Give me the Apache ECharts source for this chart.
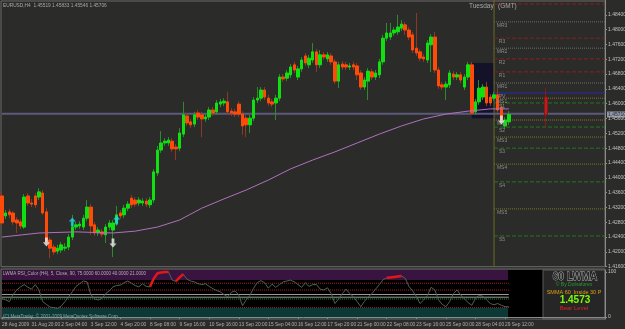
<!DOCTYPE html>
<html>
<head>
<meta charset="utf-8">
<script src="https://cdn.jsdelivr.net/npm/echarts@6/dist/echarts.min.js"></script>
<style>
html,body{margin:0;padding:0;background:#2b2b29;}
#chart{width:625px;height:329px;}
</style>
</head>
<body>
<div id="chart"></div>
<script>
// EURUSD H4 bars: [open, close, low, high]
var bars = [
[1.4351,1.4278,1.4270,1.4362],[1.4297,1.4305,1.4289,1.4313],[1.4308,1.4300,1.4291,1.4316],[1.4305,1.4281,1.4273,1.4310],
[1.4286,1.4278,1.4251,1.4294],[1.4281,1.4270,1.4262,1.4289],[1.4267,1.4348,1.4262,1.4356],[1.4351,1.4332,1.4324,1.4359],
[1.4332,1.4329,1.4321,1.4343],[1.4351,1.4327,1.4318,1.4359],[1.4348,1.4362,1.4340,1.4372],[1.4359,1.4305,1.4300,1.4367],
[1.4308,1.4227,1.4221,1.4318],[1.4232,1.4210,1.4183,1.4240],[1.4213,1.4200,1.4192,1.4221],[1.4202,1.4210,1.4194,1.4219],
[1.4205,1.4219,1.4197,1.4227],[1.4210,1.4213,1.4202,1.4224],[1.4213,1.4240,1.4205,1.4248],[1.4240,1.4267,1.4232,1.4300],
[1.4267,1.4273,1.4259,1.4281],[1.4270,1.4275,1.4262,1.4283],[1.4267,1.4291,1.4259,1.4300],[1.4291,1.4321,1.4283,1.4340],
[1.4321,1.4270,1.4246,1.4329],[1.4273,1.4251,1.4243,1.4281],[1.4251,1.4259,1.4243,1.4267],[1.4254,1.4248,1.4240,1.4262],
[1.4246,1.4267,1.4224,1.4275],[1.4267,1.4278,1.4259,1.4286],[1.4259,1.4278,1.4186,1.4286],[1.4278,1.4300,1.4270,1.4324],
[1.4305,1.4297,1.4289,1.4313],[1.4300,1.4318,1.4291,1.4327],[1.4318,1.4329,1.4310,1.4337],[1.4345,1.4327,1.4318,1.4354],
[1.4340,1.4329,1.4321,1.4348],[1.4332,1.4340,1.4324,1.4348],[1.4332,1.4337,1.4324,1.4345],[1.4337,1.4329,1.4321,1.4345],
[1.4327,1.4340,1.4318,1.4348],[1.4340,1.4416,1.4332,1.4424],[1.4413,1.4475,1.4405,1.4486],[1.4475,1.4494,1.4467,1.4526],
[1.4494,1.4499,1.4486,1.4507],[1.4494,1.4502,1.4486,1.4510],[1.4499,1.4478,1.4470,1.4507],[1.4483,1.4478,1.4448,1.4491],
[1.4480,1.4521,1.4472,1.4534],[1.4518,1.4570,1.4510,1.4605],[1.4567,1.4548,1.4540,1.4575],[1.4551,1.4543,1.4534,1.4559],
[1.4545,1.4570,1.4537,1.4578],[1.4575,1.4564,1.4556,1.4583],[1.4570,1.4559,1.4510,1.4578],[1.4559,1.4564,1.4551,1.4572],
[1.4564,1.4583,1.4556,1.4591],[1.4583,1.4575,1.4567,1.4591],[1.4578,1.4602,1.4570,1.4610],[1.4599,1.4605,1.4591,1.4613],
[1.4602,1.4607,1.4594,1.4615],[1.4605,1.4578,1.4570,1.4632],[1.4580,1.4575,1.4567,1.4588],[1.4578,1.4572,1.4564,1.4586],
[1.4599,1.4572,1.4564,1.4607],[1.4572,1.4540,1.4516,1.4580],[1.4561,1.4543,1.4510,1.4570],[1.4543,1.4561,1.4521,1.4570],
[1.4561,1.4610,1.4553,1.4618],[1.4610,1.4615,1.4602,1.4645],[1.4615,1.4637,1.4607,1.4645],[1.4637,1.4618,1.4610,1.4645],
[1.4615,1.4602,1.4594,1.4624],[1.4605,1.4599,1.4591,1.4613],[1.4602,1.4615,1.4556,1.4624],[1.4615,1.4672,1.4607,1.4680],
[1.4672,1.4667,1.4659,1.4680],[1.4669,1.4683,1.4661,1.4691],[1.4678,1.4699,1.4669,1.4707],[1.4705,1.4691,1.4683,1.4713],
[1.4672,1.4694,1.4664,1.4702],[1.4694,1.4718,1.4686,1.4726],[1.4729,1.4710,1.4702,1.4737],[1.4705,1.4723,1.4696,1.4732],
[1.4718,1.4740,1.4710,1.4764],[1.4740,1.4705,1.4686,1.4748],[1.4705,1.4732,1.4696,1.4745],[1.4732,1.4726,1.4718,1.4740],
[1.4721,1.4732,1.4713,1.4740],[1.4729,1.4713,1.4705,1.4737],[1.4713,1.4661,1.4653,1.4721],[1.4661,1.4705,1.4642,1.4713],
[1.4707,1.4699,1.4691,1.4715],[1.4705,1.4699,1.4691,1.4713],[1.4699,1.4702,1.4691,1.4710],[1.4705,1.4699,1.4691,1.4713],
[1.4702,1.4678,1.4664,1.4710],[1.4683,1.4645,1.4637,1.4691],[1.4645,1.4664,1.4637,1.4672],[1.4661,1.4688,1.4610,1.4696],
[1.4686,1.4672,1.4664,1.4694],[1.4672,1.4683,1.4664,1.4691],[1.4678,1.4713,1.4669,1.4721],[1.4713,1.4777,1.4705,1.4786],
[1.4777,1.4791,1.4769,1.4818],[1.4780,1.4791,1.4772,1.4818],[1.4791,1.4799,1.4783,1.4807],[1.4794,1.4807,1.4786,1.4840],
[1.4804,1.4815,1.4796,1.4826],[1.4813,1.4799,1.4786,1.4821],[1.4799,1.4780,1.4772,1.4807],[1.4786,1.4745,1.4737,1.4794],
[1.4750,1.4737,1.4729,1.4845],[1.4740,1.4723,1.4715,1.4748],[1.4726,1.4721,1.4713,1.4734],[1.4718,1.4764,1.4710,1.4772],
[1.4759,1.4780,1.4686,1.4788],[1.4780,1.4691,1.4683,1.4794],[1.4691,1.4648,1.4640,1.4699],[1.4651,1.4645,1.4637,1.4659],
[1.4645,1.4653,1.4610,1.4661],[1.4651,1.4683,1.4642,1.4691],[1.4680,1.4672,1.4664,1.4688],[1.4672,1.4678,1.4664,1.4686],
[1.4678,1.4664,1.4656,1.4686],[1.4645,1.4672,1.4637,1.4680],[1.4672,1.4705,1.4664,1.4713],[1.4705,1.4575,1.4570,1.4713],
[1.4578,1.4605,1.4570,1.4613],[1.4605,1.4642,1.4597,1.4664],[1.4618,1.4645,1.4610,1.4653],[1.4645,1.4602,1.4594,1.4659],
[1.4618,1.4602,1.4594,1.4626],[1.4615,1.4624,1.4607,1.4632],[1.4624,1.4583,1.4575,1.4642],[1.4591,1.4556,1.4548,1.4599],
[1.4540,1.4556,1.4532,1.4564],[1.4551,1.4571,1.4543,1.4580]
];

// 60 LWMA (pink line), sampled [bar, value]
var lwma = [[0,1.4240],[10,1.4251],[20,1.4254],[30,1.4251],[36,1.4256],[42,1.4267],[48,1.4286],[54,1.4318],
[60,1.4343],[66,1.4367],[72,1.4394],[78,1.4424],[84,1.4448],[90,1.4470],[96,1.4494],[102,1.4518],
[108,1.4540],[114,1.4559],[120,1.4572],[126,1.4580],[132,1.4586],[137,1.4586]];

var lwmaLevel = 1.4573;
var lastPrice = 1.45710;

// projected daily bar on the right
var dayBarIndex = 147;
var dayBar = [1.4618, 1.4570, 1.4537, 1.4642];

// signal arrows [bar, price]
var arrowsDown = [[12,1.4227],[30,1.4224],[135,1.4556]];
var arrowsUp = [[19,1.4281],[31,1.4286]];

// pivot levels
var pivotNames = ['','MR3','R3','MR2','R2','R1','MR1','PV','MS1','S1','MS2','S2','MS3','S3','MS4','S4','MS5','S5'];
var pivotPrices = [1.4869,1.4821,1.4777,1.4750,1.4721,1.4686,1.4656,1.4629,1.4615,1.4602,1.4556,1.4537,1.4510,1.4480,1.4437,1.4389,1.4316,1.4243];
var pivotStart = 133;

// session box
var boxBars = [127, 133];
var boxPrices = [1.4710, 1.4561];

// LWMA RSI indicator
var rsi = [41,38,34,50,60,67,72,66,62,72,60,34,28,22,21,19,24,34,45,56,
68,74,80,78,50,40,38,41,52,58,67,70,71,76,80,75,70,67,74,68,
67,85,97,99,100,100,82,79,88,95,84,80,78,74,72,74,68,63,59,56,
50,45,55,58,49,25,38,48,64,76,81,76,64,73,66,72,78,80,82,78,
72,66,76,68,72,72,62,60,65,52,30,40,52,62,52,45,34,23,35,45,
52,62,72,83,87,88,89,90,91,86,68,58,46,30,38,48,66,60,38,28,
23,34,52,60,49,40,32,26,42,48,46,38,30,27,30,26,23,23];
var rsiHot1 = [[40,67],[41,85],[42,97],[43,99],[44,100],[45,100]];
var rsiHot2 = [[47,79],[48,88],[49,95]];
var rsiHot3 = [[104,87],[105,88],[106,89],[107,90],[108,91]];
var rsiLevels = [75, 60, 50, 44, 40, 21];

var barCount = 164;
var timeLabels = ['28 Aug 2009','31 Aug 20:00','2 Sep 04:00','3 Sep 12:00','4 Sep 20:00','8 Sep 08:00',
'9 Sep 16:00','10 Sep 16:00','13 Sep 20:00','15 Sep 04:00','16 Sep 12:00','17 Sep 20:00','21 Sep 00:00',
'22 Sep 08:00','23 Sep 16:00','25 Sep 00:00','28 Sep 04:00','29 Sep 12:00'];
var labelStep = 8;

var cats = [];
for (var i = 0; i < barCount; i++) cats.push(String(i));

var bodies = bars.map(function (b) {
    return [b[0], b[1], Math.min(b[0], b[1]), Math.max(b[0], b[1])];
});
var dayData = [];
for (var i = 0; i < dayBarIndex; i++) dayData.push('-');
dayData.push(dayBar);

var FONT = '"Liberation Sans", Arial, sans-serif';

function isLabelBar(idx) {
    return idx % labelStep === 0 && idx / labelStep < timeLabels.length;
}

// pivot lines as short line series from pivotStart to the right edge
var pivotSeries = pivotPrices.map(function (p, k) {
    var n = pivotNames[k];
    var col = '#8a2020', type = 'dashed';
    if (n === 'PV') { col = '#2a2ab0'; type = 'solid'; }
    else if (n.indexOf('MR') === 0) { col = '#6e6e6e'; type = 'dotted'; }
    else if (n.indexOf('MS') === 0) { col = '#7a7a30'; type = 'dotted'; }
    else if (n.indexOf('S') === 0) { col = '#1f7a1f'; type = 'dashed'; }
    return {
        type: 'line', xAxisIndex: 0, yAxisIndex: 0, z: 1, symbol: 'none', silent: true,
        data: [[pivotStart, p], [barCount - 1, p]],
        lineStyle: {color: col, type: type, width: 1},
        endLabel: {show: false},
        markPoint: n === '' ? undefined : {
            symbol: 'rect', symbolSize: 0, silent: true,
            data: [{coord: [pivotStart, p], label: {show: true, formatter: n, position: 'bottom', distance: 1,
                offset: [8, 0], color: '#8a8a8a', fontSize: 5, fontFamily: FONT}}]
        }
    };
});

var rsiLevelSeries = rsiLevels.map(function (v) {
    var col = '#a02020', type = 'dotted';
    if (v === 50 || v === 44) { col = '#9a9a9a'; type = 'solid'; }
    if (v === 40) { col = '#1f8a1f'; }
    return {
        type: 'line', xAxisIndex: 1, yAxisIndex: 1, z: 2, symbol: 'none', silent: true,
        data: [[0, v], [bars.length - 1, v]], lineStyle: {color: col, type: type, width: 1}
    };
});

var arrowDownPath = 'path://M3,0 L7,0 L7,6 L10,6 L5,11 L0,6 L3,6 Z';
var arrowUpPath = 'path://M3,11 L7,11 L7,5 L10,5 L5,0 L0,5 L3,5 Z';

var chart = echarts.init(document.getElementById('chart'), null, {renderer: 'canvas'});
var option = {
    backgroundColor: '#2b2b29',
    animation: false,
    grid: [
        {left: 2, right: 20, top: 0, height: 266.7, containLabel: false, outerBoundsMode: 'none'},
        {left: 2, right: 20, top: 270, height: 49, containLabel: false, outerBoundsMode: 'none'}
    ],
    xAxis: [{
        type: 'category', gridIndex: 0, data: cats, boundaryGap: false,
        axisLine: {show: false}, axisTick: {show: false}, axisLabel: {show: false}, splitLine: {show: false}
    }, {
        type: 'category', gridIndex: 1, data: cats, boundaryGap: false,
        axisLine: {show: true, lineStyle: {color: '#8a8a8a'}},
        axisTick: {show: true, length: 2, interval: isLabelBar, lineStyle: {color: '#8a8a8a'}},
        axisLabel: {
            show: true, color: '#b0b0b0', fontSize: 4.8, fontFamily: FONT, align: 'left', margin: 3,
            hideOverlap: false, interval: isLabelBar,
            formatter: function (v, idx) { return timeLabels[idx / labelStep] || ''; }
        },
        splitLine: {show: false}
    }],
    yAxis: [{
        type: 'value', gridIndex: 0, position: 'right', min: 1.416, max: 1.488, interval: 0.004,
        axisLine: {show: true, lineStyle: {color: '#8a8a8a'}},
        axisTick: {show: true, length: 2, lineStyle: {color: '#8a8a8a'}},
        axisLabel: {color: '#c0c0c0', fontSize: 5, fontFamily: FONT, margin: 3, showMaxLabel: false, hideOverlap: false,
            formatter: function (v) { return v.toFixed(5); }},
        splitLine: {show: false}
    }, {
        type: 'value', gridIndex: 1, position: 'right', min: -4.4, max: 104.4,
        axisLine: {show: true, lineStyle: {color: '#8a8a8a'}},
        axisTick: {show: true, length: 2, customValues: [0, 100], lineStyle: {color: '#8a8a8a'}},
        axisLabel: {color: '#c0c0c0', fontSize: 5, fontFamily: FONT, margin: 3, customValues: [0, 100]},
        splitLine: {show: false}
    }],
    graphic: [
        {type: 'rect', z: 0, shape: {x: 1, y: 1, width: 604, height: 265.7}, style: {fill: 'none', stroke: '#6a6a6a', lineWidth: 1}},
        {type: 'rect', z: 0, shape: {x: 2, y: 270, width: 506, height: 10}, style: {fill: '#3a1440'}},
        {type: 'rect', z: 0, shape: {x: 2, y: 280, width: 506, height: 28}, style: {fill: '#000000'}},
        {type: 'rect', z: 0, shape: {x: 2, y: 308, width: 506, height: 11}, style: {fill: '#0c3836'}},
        {type: 'rect', z: 0, shape: {x: 508, y: 270, width: 35, height: 49}, style: {fill: '#000000'}},
        {type: 'rect', z: 0, shape: {x: 543, y: 270, width: 62, height: 49}, style: {fill: '#262626', stroke: '#5a5a5a', lineWidth: 1}},
        {type: 'rect', z: 0, shape: {x: 1, y: 269, width: 604, height: 50}, style: {fill: 'none', stroke: '#6a6a6a', lineWidth: 1}},
        {type: 'text', z: 50, x: 3, y: 3, style: {text: 'EURUSD,H4  1.45519 1.45833 1.45546 1.45706', fill: '#a8a8a8', font: '4.8px ' + FONT}},
        {type: 'text', z: 50, x: 469, y: 3, style: {text: 'Tuesday', fill: '#a8a8a8', font: '6.5px ' + FONT}},
        {type: 'text', z: 50, x: 498, y: 3, style: {text: '(GMT)', fill: '#a8a8a8', font: '6.5px ' + FONT}},
        {type: 'text', z: 50, x: 3, y: 271.5, style: {text: 'LWMA RSI_Color (H4), 5, Close, 90, 75.0000 60.0000 40.0000 21.0000', fill: '#b0b0b0', font: '4.5px ' + FONT}},
        {type: 'text', z: 50, x: 3, y: 314, style: {text: '(C) MetaTrader, \u00a9 2001-2009 MetaQuotes Software Corp.', fill: '#90a8a8', font: '4.5px ' + FONT}},
        {type: 'text', z: 50, x: 575, y: 277, style: {text: '60 LWMA', fill: '#262626', stroke: '#b8b8b8', lineWidth: 0.8, font: 'bold 10px ' + FONT, align: 'center', verticalAlign: 'middle'}},
        {type: 'text', z: 50, x: 574, y: 285, style: {text: '\u00a9 By Dolnaforex', fill: '#2e9a2e', font: '5px ' + FONT, align: 'center', verticalAlign: 'middle'}},
        {type: 'text', z: 50, x: 574, y: 292, style: {text: 'SMMA 60  Inside 30 P', fill: '#e0a010', font: '5.5px ' + FONT, align: 'center', verticalAlign: 'middle'}},
        {type: 'text', z: 50, x: 575, y: 300, style: {text: '1.4573', fill: '#7cfc00', font: 'bold 10px ' + FONT, align: 'center', verticalAlign: 'middle'}},
        {type: 'text', z: 50, x: 574, y: 308.5, style: {text: 'Bear Level', fill: '#e02020', font: '6px ' + FONT, align: 'center', verticalAlign: 'middle'}}
    ],
    series: [{
        name: 'wicks', type: 'candlestick', xAxisIndex: 0, yAxisIndex: 0, data: bars, barWidth: 1,
        itemStyle: {color: '#2e8a2e', color0: '#8a3a24', borderColor: '#2e8a2e', borderColor0: '#8a3a24', borderWidth: 1},
        markArea: {silent: true, itemStyle: {color: '#131228'}, data: [[{coord: [boxBars[0], boxPrices[0]]}, {coord: [boxBars[1], boxPrices[1]]}]]}
    }, {
        name: 'bodies', type: 'candlestick', xAxisIndex: 0, yAxisIndex: 0, data: bodies, barWidth: 3,
        itemStyle: {color: '#10e010', color0: '#ff4a08', borderColor: '#10e010', borderColor0: '#ff4a08', borderWidth: 1}
    }, {
        name: 'day', type: 'candlestick', xAxisIndex: 0, yAxisIndex: 0, data: dayData, barWidth: 4,
        itemStyle: {color: '#c01c1c', color0: '#c01c1c', borderColor: '#8a1818', borderColor0: '#8a1818', borderWidth: 1}
    }, {
        name: 'session', type: 'line', xAxisIndex: 0, yAxisIndex: 0, z: 1, symbol: 'none', silent: true,
        data: [[pivotStart, 1.416], [pivotStart, 1.488]], lineStyle: {color: '#6b6b22', width: 1}
    }, {
        name: 'level', type: 'line', xAxisIndex: 0, yAxisIndex: 0, z: 1, symbol: 'none', silent: true,
        data: [[0, lwmaLevel], [barCount - 1, lwmaLevel]], lineStyle: {color: '#5c5a7c', width: 2}
    }, {
        name: 'price', type: 'scatter', xAxisIndex: 0, yAxisIndex: 0, z: 20, symbolSize: 0, silent: true,
        data: [[barCount - 1, lastPrice]],
        label: {show: true, position: 'right', distance: 2, formatter: lastPrice.toFixed(5), color: '#101018',
            backgroundColor: '#aab2c4', padding: [1, 2, 0, 1], fontSize: 5, fontFamily: FONT}
    }, {
        name: '60 LWMA', type: 'line', xAxisIndex: 0, yAxisIndex: 0, data: lwma, showSymbol: false, symbol: 'none',
        lineStyle: {color: '#b070c0', width: 1}, z: 3
    }, {
        name: 'down', type: 'scatter', xAxisIndex: 0, yAxisIndex: 0, data: arrowsDown, symbol: arrowDownPath,
        symbolSize: [7, 9], itemStyle: {color: '#f0f0f0'}, z: 5
    }, {
        name: 'up', type: 'scatter', xAxisIndex: 0, yAxisIndex: 0, data: arrowsUp, symbol: arrowUpPath,
        symbolSize: [7, 9], itemStyle: {color: '#20d8e8'}, z: 5
    }, {
        name: 'rsi', type: 'line', xAxisIndex: 1, yAxisIndex: 1, data: rsi, showSymbol: false, symbol: 'none',
        lineStyle: {color: '#4e6450', width: 1}, z: 3
    }, {
        name: 'hot1', type: 'line', xAxisIndex: 1, yAxisIndex: 1, data: rsiHot1, showSymbol: false, symbol: 'none',
        lineStyle: {color: '#e01818', width: 2.5}, z: 4
    }, {
        name: 'hot2', type: 'line', xAxisIndex: 1, yAxisIndex: 1, data: rsiHot2, showSymbol: false, symbol: 'none',
        lineStyle: {color: '#e01818', width: 2.5}, z: 4
    }, {
        name: 'hot3', type: 'line', xAxisIndex: 1, yAxisIndex: 1, data: rsiHot3, showSymbol: false, symbol: 'none',
        lineStyle: {color: '#e01818', width: 2.5}, z: 4
    }].concat(pivotSeries, rsiLevelSeries)
};
chart.setOption(option);
</script>
</body>
</html>
